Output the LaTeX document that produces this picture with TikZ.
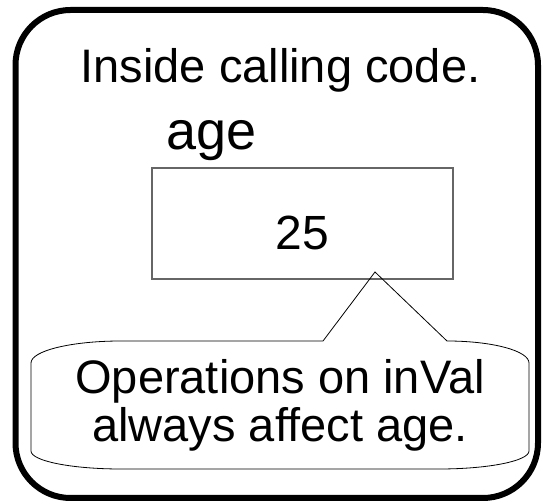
\documentclass[tikz,border=0pt]{standalone}
\usepackage{fontspec}
\setmainfont{Liberation Sans}

\begin{document}
\begin{tikzpicture}[x=1pt,y=-1pt,
          frame/.style={draw,line width=6pt,rounded corners=55pt},
          txt/.style={inner sep=0pt,font=\fontsize{47}{48.4}\selectfont},
          varbox/.style={draw=black!60,line width=1.2pt,inner sep=0pt,
                         minimum width=301pt,minimum height=111pt,
                         font=\fontsize{48}{48}\selectfont,
                         text height=53pt,text depth=0pt},
          callout/.style={draw,line width=0.8pt}]
        \useasboundingbox (0,0) rectangle (542,502);
        \draw[frame] (15.5,10) rectangle (538,498);
        \node[txt,anchor=base] (title) at (280.5,83) {Inside calling code.};
        \node[varbox] (agebox) at (302.5,223.5) {25};
        \node[txt,anchor=base,font=\fontsize{54}{54}\selectfont]
          (agelbl) at (211.5,150) {age};
        \node[txt,align=center] (msg) at (280,405.5)
          {Operations on inVal\\always affect age.};
        % speech bubble round msg, tip inside the box
        \coordinate (tip) at (375,272);
        \draw[callout] (tip) -- (447,341)
          .. controls (492.3,341) and (529,350.8) .. (529,363) -- (529,451)
          .. controls (529,460.9) and (488.7,469) .. (439,469) -- (121,469)
          .. controls (71.3,469) and (31,460.9) .. (31,451) -- (31,363)
          .. controls (31,350.8) and (71.3,341) .. (121,341) -- (323,341)
          -- cycle;
      \end{tikzpicture}
\end{document}
